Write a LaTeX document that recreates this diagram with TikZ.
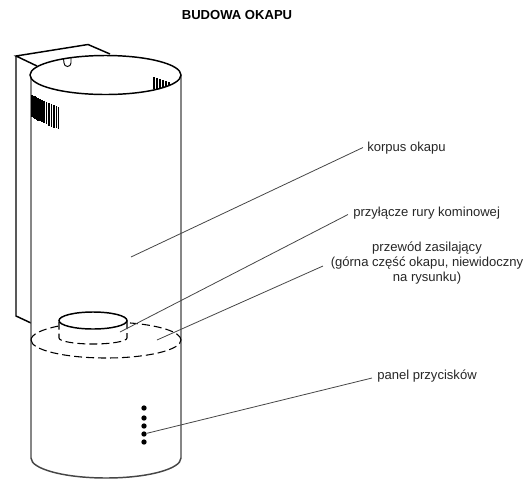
\documentclass[tikz,border=0pt]{standalone}
\usepackage{fontspec}
\setmainfont{Liberation Sans}
\usetikzlibrary{positioning,calc}
\definecolor{szaryLinia}{RGB}{70,70,70}
\tikzset{
  kontur/.style={line width=1.1pt, black},
  bok/.style={line width=1.1pt, szaryLinia},
  ukryty/.style={line width=0.8pt, black, dash pattern=on 6pt off 3pt},
  odnosnik/.style={line width=0.6pt, szaryLinia},
  opis/.style={font=\fontsize{9.8pt}{11.3pt}\selectfont, align=center, inner sep=0pt, text=black!85},
  tytul/.style={font=\fontsize{9.8pt}{11pt}\selectfont\bfseries, inner sep=0pt},
  przycisk/.style={circle, fill=black, inner sep=0pt, minimum size=4pt},
  zebro/.style={line width=1.2pt, black},
}
\begin{document}
\begin{tikzpicture}[x=0.75pt, y=-0.75pt]
  \useasboundingbox (0,0) rectangle (526,501);
  \node[tytul] (tyt) at (237,15) {BUDOWA OKAPU};
  % uchwyt
  \draw[kontur] (110,54) -- (88,44.5) -- (16,56) -- (37,66);
  \draw[kontur] (16,56) -- (16,316) -- (31,323);
  % korpus
  \fill[white] (31,75) -- (31,458) arc[start angle=180, end angle=0, x radius=75, y radius=20] -- (181,75) -- cycle;
  \draw[bok] (31,75) -- (31,458) arc[start angle=180, end angle=0, x radius=75, y radius=20] -- (181,75);
  \draw[kontur, fill=white] (105.5,75) ellipse[x radius=75.5, y radius=19.5];
  % otwor
  \draw[line width=0.7pt] (63.5,58.5) -- (64,63) arc[start angle=180, end angle=0, x radius=3.5, y radius=3.5] -- (71,58);
  % kratki
  \foreach \x/\ya/\yb in {32/95/117,33.5/95.5/118,35/96/119,36.5/97/120,38/98/120.5,40/99/121,42/100/122,44/100.5/122.5,46.5/102/124,49/103/125.5,51.5/104/126.5,54/105/127.5,56.5/106/128,58.5/107/129}
    \draw[zebro] (\x,\ya) -- (\x,\yb);
  \foreach \x/\ya/\yb in {154/77/89,157/78/88.5,160/79/88,163/80/87,166/81/86,169/82/85}
    \draw[zebro] (\x,\ya) -- (\x,\yb);
  % przylacze i ukryta obudowa
  \draw[ukryty] (31,340) arc[start angle=180, end angle=0, x radius=75, y radius=18];
  \draw[ukryty] (31,340) arc[start angle=180, end angle=231, x radius=75, y radius=18];
  \draw[ukryty] (181,340) arc[start angle=360, end angle=286, x radius=75, y radius=18];
  \draw[ukryty] (127,321) -- (127,338) arc[start angle=0, end angle=180, x radius=34, y radius=6] -- (59,321);
  \draw[kontur, fill=white] (93,320.5) ellipse[x radius=34, y radius=8.5];
  % panel
  \foreach \y/\nazwa in {408/p1,418/p2,426/p3,434/p4,442/p5}
    \node[przycisk] (\nazwa) at (144,\y) {};
  % opisy
  \node[opis, anchor=west] (korpus) at (367,148.5) {korpus okapu};
  \node[opis, anchor=west] (przylacze) at (353,213.5) {przyłącze rury kominowej};
  \node[opis] (przewod) at (427,263) {przewód zasilający\\(górna część okapu, niewidoczny\\na rysunku)};
  \node[opis, anchor=west] (panel) at (377,376) {panel przycisków};
  \coordinate (kk) at (131,257);
  \coordinate (kp) at (120,332);
  \coordinate (kz) at (157,340);
  \coordinate (pz) at (323,266);
  \draw[odnosnik] (korpus.west) ++(-4,-1) -- (kk);
  \draw[odnosnik] (przylacze.west) ++(-5,1) -- (kp);
  \draw[odnosnik] (pz) -- (kz);
  \draw[odnosnik] (panel.west) ++(-5,2) -- (p4);
\end{tikzpicture}
\end{document}
